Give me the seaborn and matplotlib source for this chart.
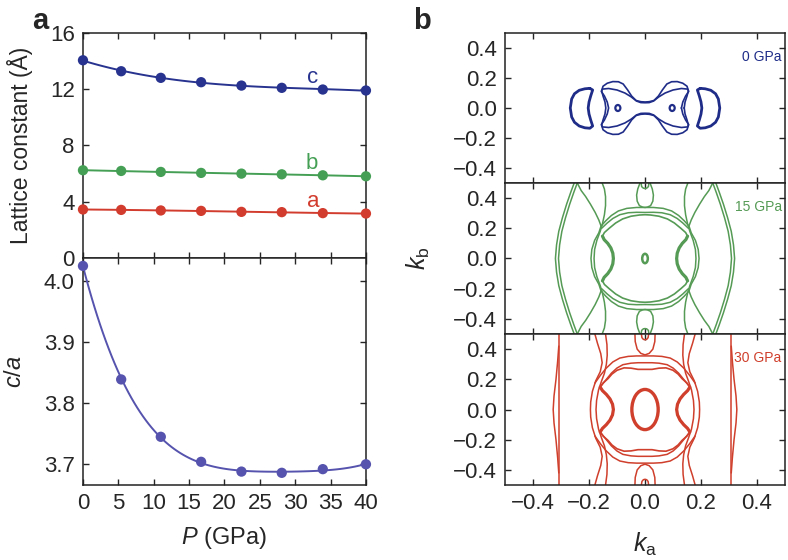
import matplotlib
matplotlib.use("Agg")
import matplotlib.pyplot as plt
from matplotlib.patches import Ellipse
import seaborn as sns
import pandas as pd

# ---- panel a: lattice constants vs pressure ----
pressure = [0, 5.4, 11.0, 16.7, 22.4, 28.1, 33.9, 40.0]
lat_a = [3.45, 3.42, 3.38, 3.35, 3.28, 3.26, 3.19, 3.16]
lat_b = [6.24, 6.19, 6.12, 6.05, 6.00, 5.95, 5.88, 5.81]
lat_c = [14.06, 13.28, 12.81, 12.50, 12.26, 12.10, 11.98, 11.91]
c_over_a = [4.025, 3.839, 3.745, 3.704, 3.688, 3.686, 3.692, 3.700]

# ---- panel b: Fermi surface cuts (k_a, k_b) ----
# 0 GPa
bone_outer_q = [(0.140, 0.0), (0.143, 0.04), (0.150, 0.08), (0.155, 0.115), (0.150, 0.145),
                (0.135, 0.165), (0.115, 0.176), (0.095, 0.175), (0.078, 0.16), (0.062, 0.12),
                (0.048, 0.08), (0.032, 0.05), (0.015, 0.042), (0.0, 0.040)]
bone_inner_q = [(0.130, 0.0), (0.135, 0.04), (0.145, 0.08), (0.156, 0.11), (0.152, 0.126),
                (0.130, 0.130), (0.100, 0.120), (0.072, 0.10), (0.050, 0.075), (0.030, 0.046),
                (0.015, 0.036), (0.0, 0.035)]
crescent_left = [(-0.197, 0.131), (-0.215, 0.128), (-0.235, 0.118), (-0.252, 0.095), (-0.262, 0.06),
                 (-0.267, 0.0), (-0.262, -0.06), (-0.252, -0.095), (-0.235, -0.12), (-0.215, -0.132),
                 (-0.197, -0.135), (-0.187, -0.12), (-0.194, -0.08), (-0.200, -0.04), (-0.203, 0.0),
                 (-0.200, 0.04), (-0.194, 0.08), (-0.187, 0.12), (-0.197, 0.131)]
pocket0_x = [-0.097, 0.097]
pocket0_w = 0.018
pocket0_h = 0.040

# 15 GPa
lens1_h = [(-0.253, 0.5), (-0.265, 0.44), (-0.280, 0.36), (-0.295, 0.27), (-0.308, 0.18),
           (-0.316, 0.09), (-0.320, 0.0)]
lens2_h = [(-0.242, 0.5), (-0.254, 0.44), (-0.269, 0.36), (-0.284, 0.27), (-0.297, 0.18),
           (-0.305, 0.09), (-0.309, 0.0)]
lens_in_h = [(-0.242, 0.5), (-0.228, 0.45), (-0.212, 0.41), (-0.195, 0.36), (-0.178, 0.305),
             (-0.165, 0.255), (-0.157, 0.215), (-0.165, 0.17), (-0.180, 0.12), (-0.190, 0.06),
             (-0.193, 0.0)]
column15_h = [(-0.153, 0.5), (-0.145, 0.46), (-0.141, 0.41), (-0.141, 0.35), (-0.145, 0.29),
              (-0.152, 0.23), (-0.160, 0.18), (-0.172, 0.12), (-0.180, 0.06), (-0.182, 0.0)]
ring15_a = [(-0.157, 0.215), (-0.140, 0.25), (-0.120, 0.285), (-0.095, 0.315), (-0.065, 0.332),
            (-0.030, 0.338), (0.0, 0.338)]
ring15_b = [(-0.155, 0.200), (-0.135, 0.235), (-0.115, 0.265), (-0.090, 0.29), (-0.060, 0.303),
            (-0.030, 0.306), (0.0, 0.305)]
wavy15_q = [(0.113, 0.0), (0.115, 0.035), (0.122, 0.07), (0.133, 0.10), (0.146, 0.125),
            (0.152, 0.148), (0.145, 0.172), (0.128, 0.20), (0.105, 0.235), (0.080, 0.262),
            (0.050, 0.280), (0.020, 0.288), (0.0, 0.290)]
drop15 = [(-0.018, 0.5), (-0.026, 0.46), (-0.030, 0.42), (-0.028, 0.38), (-0.020, 0.35),
          (-0.008, 0.34), (0.0, 0.338)]
cap15 = [(-0.014, 0.5), (-0.012, 0.476), (-0.006, 0.466), (0.0, 0.464)]
centre15_w = 0.020
centre15_h = 0.062

# 30 GPa
far30_h = [(-0.308, 0.5), (-0.308, 0.0)]
far30_lens_h = [(-0.308, 0.42), (-0.312, 0.32), (-0.318, 0.2), (-0.325, 0.09), (-0.328, 0.0)]
col30a_h = [(-0.179, 0.5), (-0.170, 0.44), (-0.158, 0.37), (-0.153, 0.31), (-0.160, 0.25),
            (-0.176, 0.19), (-0.188, 0.12), (-0.194, 0.05), (-0.195, 0.0)]
col30b_h = [(-0.141, 0.5), (-0.136, 0.43), (-0.135, 0.36), (-0.138, 0.30), (-0.145, 0.24),
            (-0.155, 0.19), (-0.166, 0.13), (-0.173, 0.06), (-0.175, 0.0)]
ring30_a = [(-0.179, 0.175), (-0.160, 0.225), (-0.138, 0.275), (-0.115, 0.315), (-0.090, 0.341),
            (-0.060, 0.352), (-0.030, 0.355), (0.0, 0.355)]
ring30_b = [(-0.160, 0.150), (-0.138, 0.200), (-0.120, 0.241), (-0.100, 0.275), (-0.079, 0.297),
            (-0.050, 0.307), (-0.025, 0.310), (0.0, 0.310)]
wavy30_q = [(0.113, 0.0), (0.116, 0.035), (0.125, 0.07), (0.138, 0.10), (0.152, 0.125),
            (0.160, 0.148), (0.150, 0.175), (0.132, 0.205), (0.118, 0.235), (0.100, 0.26),
            (0.075, 0.276), (0.050, 0.274), (0.025, 0.266), (0.0, 0.266)]
drop30 = [(-0.036, 0.5), (-0.035, 0.45), (-0.028, 0.40), (-0.015, 0.372), (0.0, 0.362)]
cap30 = [(-0.013, 0.5), (-0.011, 0.476), (-0.006, 0.465), (0.0, 0.462)]
centre30_w = 0.094
centre30_h = 0.266

col_a, col_b, col_c, col_ca = "#d23c2e", "#45a055", "#27338f", "#5553ad"
col_0, col_15, col_30 = "#1f2d88", "#559a55", "#cf3f2c"


def full_loop(q):
    q2 = [(-x, y) for x, y in reversed(q)]
    q3 = [(-x, -y) for x, y in q]
    q4 = [(x, -y) for x, y in reversed(q)]
    return q + q2 + q3 + q4 + [q[0]]


def full_vertical(h):
    return h + [(x, -y) for x, y in reversed(h[:-1])]


def mirror_ka(pts):
    return [(-x, y) for x, y in pts]


def mirror_kb(pts):
    return [(x, -y) for x, y in pts]


def arc(half):
    return half + [(-x, y) for x, y in reversed(half[:-1])]


def trace(ax, pts, color, lw=1.1):
    xs = [p[0] for p in pts]
    ys = [p[1] for p in pts]
    sns.lineplot(x=xs, y=ys, sort=False, estimator=None, color=color,
                 linewidth=lw, ax=ax)


def wavy(ax, q, color):
    trace(ax, full_loop(q), color, 1.2)
    # the pinched sides are drawn heavier in the original
    side = full_vertical(list(reversed(q[:6])))
    trace(ax, side, color, 2.3)
    trace(ax, mirror_ka(side), color, 2.3)


sns.set_style("ticks")
plt.rcParams["font.family"] = ["Liberation Sans", "DejaVu Sans"]
plt.rcParams["mathtext.fontset"] = "custom"
plt.rcParams["mathtext.it"] = "Liberation Sans:italic"
plt.rcParams["mathtext.rm"] = "Liberation Sans"
plt.rcParams["xtick.direction"] = "in"
plt.rcParams["ytick.direction"] = "in"
plt.rcParams["xtick.major.size"] = 4
plt.rcParams["ytick.major.size"] = 4
plt.rcParams["axes.linewidth"] = 1.1
plt.rcParams["axes.edgecolor"] = "#222222"

fig = plt.figure(figsize=(7.88, 5.6), dpi=100)
ax_lat = fig.add_axes([0.1053, 0.5393, 0.3591, 0.4018])
ax_ca = fig.add_axes([0.1053, 0.1339, 0.3591, 0.4054])
ax_b0 = fig.add_axes([0.6409, 0.6732, 0.3553, 0.2679])
ax_b15 = fig.add_axes([0.6409, 0.4036, 0.3553, 0.2696])
ax_b30 = fig.add_axes([0.6409, 0.1339, 0.3553, 0.2696])

df = pd.DataFrame({"P": pressure, "a": lat_a, "b": lat_b, "c": lat_c, "ca": c_over_a})

for name, colr in [("a", col_a), ("b", col_b), ("c", col_c)]:
    sns.regplot(data=df, x="P", y=name, order=3, ci=None, scatter=False,
                line_kws={"color": colr, "lw": 1.4}, ax=ax_lat)
    sns.scatterplot(data=df, x="P", y=name, color=colr, s=55, edgecolor="none",
                    zorder=5, ax=ax_lat, clip_on=False)
ax_lat.text(32.5, 12.85, "c", color=col_c, fontsize=16, ha="center", va="center")
ax_lat.text(32.3, 6.75, "b", color=col_b, fontsize=16, ha="center", va="center")
ax_lat.text(32.5, 4.05, "a", color=col_a, fontsize=16, ha="center", va="center")
ax_lat.set_xlim(0, 40)
ax_lat.set_ylim(0, 16)
ax_lat.set_yticks([0, 4, 8, 12, 16])
ax_lat.set_xticks(range(0, 41, 5))
ax_lat.set_xticklabels([])
ax_lat.set_xlabel("")
ax_lat.set_ylabel("Lattice constant (Å)", fontsize=16.5)
ax_lat.yaxis.set_label_coords(-0.175, 0.5)

sns.regplot(data=df, x="P", y="ca", order=4, ci=None, scatter=False,
            line_kws={"color": col_ca, "lw": 1.4}, ax=ax_ca)
sns.scatterplot(data=df, x="P", y="ca", color=col_ca, s=55, edgecolor="none",
                zorder=5, ax=ax_ca, clip_on=False)
ax_ca.set_xlim(0, 40)
ax_ca.set_ylim(3.666, 4.038)
ax_ca.set_yticks([3.7, 3.8, 3.9, 4.0])
ax_ca.set_yticklabels(["3.7", "3.8", "3.9", "4.0"])
ax_ca.set_xticks(range(0, 41, 5))
ax_ca.set_ylabel("$c/a$", fontsize=17)
ax_ca.yaxis.set_label_coords(-0.2, 0.5)
ax_ca.set_xlabel("$P$ (GPa)", fontsize=17)
ax_ca.xaxis.set_label_coords(0.5, -0.175)

for ax in (ax_lat, ax_ca):
    ax.tick_params(labelsize=16, top=True, right=True, width=1.0, pad=6)

# 0 GPa
trace(ax_b0, full_loop(bone_outer_q), col_0, 1.2)
trace(ax_b0, full_loop(bone_inner_q), col_0, 1.2)
trace(ax_b0, crescent_left, col_0, 2.0)
trace(ax_b0, mirror_ka(crescent_left), col_0, 2.0)
for x0 in pocket0_x:
    ax_b0.add_patch(Ellipse((x0, 0), pocket0_w, pocket0_h, fill=False, ec=col_0, lw=1.6))

# 15 GPa
for h in (lens1_h, lens2_h, lens_in_h, column15_h):
    trace(ax_b15, full_vertical(h), col_15)
    trace(ax_b15, mirror_ka(full_vertical(h)), col_15)
for a in (ring15_a, ring15_b):
    trace(ax_b15, arc(a), col_15)
    trace(ax_b15, mirror_kb(arc(a)), col_15)
wavy(ax_b15, wavy15_q, col_15)
for d in (drop15, cap15):
    trace(ax_b15, arc(d), col_15)
    trace(ax_b15, mirror_kb(arc(d)), col_15)
ax_b15.add_patch(Ellipse((0, 0), centre15_w, centre15_h, fill=False, ec=col_15, lw=1.8))

# 30 GPa
for h in (far30_h, far30_lens_h, col30a_h, col30b_h):
    trace(ax_b30, full_vertical(h), col_30)
    trace(ax_b30, mirror_ka(full_vertical(h)), col_30)
for a in (ring30_a, ring30_b):
    trace(ax_b30, arc(a), col_30)
    trace(ax_b30, mirror_kb(arc(a)), col_30)
wavy(ax_b30, wavy30_q, col_30)
for d in (drop30, cap30):
    trace(ax_b30, arc(d), col_30)
    trace(ax_b30, mirror_kb(arc(d)), col_30)
ax_b30.add_patch(Ellipse((0, 0), centre30_w, centre30_h, fill=False, ec=col_30, lw=2.4))

for ax, lab, colr in [(ax_b0, "0 GPa", col_0), (ax_b15, "15 GPa", col_15), (ax_b30, "30 GPa", col_30)]:
    ax.set_xlim(-0.5, 0.5)
    ax.set_ylim(-0.5, 0.5)
    ax.set_xticks([-0.4, -0.2, 0.0, 0.2, 0.4])
    ax.set_yticks([-0.4, -0.2, 0.0, 0.2, 0.4])
    ax.set_xlabel("")
    ax.set_ylabel("")
    ax.tick_params(labelsize=16, top=True, right=True, width=1.0, pad=6)
    ax.text(0.988, 0.84, lab, transform=ax.transAxes, color=colr, fontsize=10,
            ha="right", va="center")
ax_b0.set_xticklabels([])
ax_b15.set_xticklabels([])
ax_b15.set_ylabel("$k_{\\mathrm{b}}$", fontsize=18)
ax_b15.yaxis.set_label_coords(-0.26, 0.5)
ax_b30.set_xlabel("$k_{\\mathrm{a}}$", fontsize=18)
ax_b30.xaxis.set_label_coords(0.5, -0.3)

fig.text(0.051, 0.962, "a", fontsize=21, fontweight="bold", ha="center", va="center")
fig.text(0.535, 0.962, "b", fontsize=21, fontweight="bold", ha="center", va="center")

fig.savefig("out.png", dpi=100)
